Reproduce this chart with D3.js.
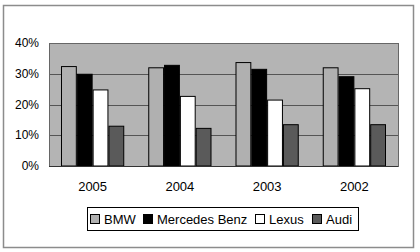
<!DOCTYPE html>
<html>
<head>
<meta charset="utf-8">
<script src="https://cdn.jsdelivr.net/npm/d3@7"></script>
<style>
  body { margin: 0; background: #fff; }
  svg text { font-family: Arial, "Liberation Sans", sans-serif; fill: #000; }
</style>
</head>
<body>
<div id="chart"></div>
<script>
const years = ["2005", "2004", "2003", "2002"];
const brands = ["BMW", "Mercedes Benz", "Lexus", "Audi"];
const bmw = [32.5, 32.1, 33.8, 32.1];
const mercedes = [30.0, 32.9, 31.6, 29.2];
const lexus = [24.9, 22.8, 21.6, 25.3];
const audi = [13.1, 12.4, 13.6, 13.6];
const yTicks = [0, 10, 20, 30, 40];

const seriesValues = [bmw, mercedes, lexus, audi];
const colors = ["#b0b0b0", "#000000", "#ffffff", "#5a5a5a"];

const width = 420;
const height = 252;
const plot = { left: 49, right: 398, top: 43, bottom: 166 };

const svg = d3.select("#chart")
    .append("svg")
    .attr("width", width)
    .attr("height", height);

// outer frame
svg.append("rect")
    .attr("x", 3.5)
    .attr("y", 5.5)
    .attr("width", 410)
    .attr("height", 242)
    .attr("fill", "#fff")
    .attr("stroke", "#8c8c8c")
    .attr("stroke-width", 1.5);

const x = d3.scaleBand()
    .domain(years)
    .range([plot.left, plot.right])
    .paddingInner(0.275)
    .paddingOuter(0.1375);

const xInner = d3.scaleBand()
    .domain(brands)
    .range([0, x.bandwidth()]);

const y = d3.scaleLinear()
    .domain([0, 40])
    .range([plot.bottom, plot.top]);

svg.append("rect")
    .attr("x", plot.left)
    .attr("y", plot.top)
    .attr("width", plot.right - plot.left)
    .attr("height", plot.bottom - plot.top)
    .attr("fill", "#b4b4b4");

svg.append("g")
    .selectAll("line")
    .data(yTicks)
    .enter()
    .append("line")
    .attr("x1", plot.left)
    .attr("x2", plot.right)
    .attr("y1", d => Math.round(y(d)) + 0.5)
    .attr("y2", d => Math.round(y(d)) + 0.5)
    .attr("stroke", "#555")
    .attr("stroke-width", 1);

svg.append("rect")
    .attr("x", plot.left + 0.5)
    .attr("y", plot.top + 0.5)
    .attr("width", plot.right - plot.left)
    .attr("height", plot.bottom - plot.top)
    .attr("fill", "none")
    .attr("stroke", "#666");

const groups = svg.append("g")
    .selectAll("g")
    .data(years)
    .enter()
    .append("g")
    .attr("transform", d => `translate(${x(d)},0)`);

groups.selectAll("rect")
    .data((d, i) => brands.map((b, j) => ({ brand: b, value: seriesValues[j][i], j })))
    .enter()
    .append("rect")
    .attr("x", d => xInner(d.brand) + 0.5)
    .attr("y", d => y(d.value) + 0.5)
    .attr("width", xInner.bandwidth() - 1)
    .attr("height", d => y(0) - y(d.value) - 0.5)
    .attr("fill", d => colors[d.j])
    .attr("stroke", "#000")
    .attr("stroke-width", 1);

// axis line
svg.append("line")
    .attr("x1", plot.left)
    .attr("x2", plot.right)
    .attr("y1", plot.bottom + 0.5)
    .attr("y2", plot.bottom + 0.5)
    .attr("stroke", "#333");

svg.append("g")
    .selectAll("text")
    .data(yTicks)
    .enter()
    .append("text")
    .attr("x", 39)
    .attr("y", d => y(d) + 4)
    .attr("text-anchor", "end")
    .attr("font-size", "12px")
    .text(d => d + "%");

svg.append("g")
    .selectAll("text")
    .data(years)
    .enter()
    .append("text")
    .attr("x", d => x(d) + x.bandwidth() / 2)
    .attr("y", 191)
    .attr("text-anchor", "middle")
    .attr("font-size", "13px")
    .text(d => d);

// legend
const legend = svg.append("g");
legend.append("rect")
    .attr("x", 87.5)
    .attr("y", 207.5)
    .attr("width", 271)
    .attr("height", 23)
    .attr("fill", "#fff")
    .attr("stroke", "#000");

const legendX = [90, 143, 255, 312];
brands.forEach((b, i) => {
    legend.append("rect")
        .attr("x", legendX[i] + 0.5)
        .attr("y", 214.5)
        .attr("width", 9)
        .attr("height", 9)
        .attr("fill", colors[i])
        .attr("stroke", "#000");
    legend.append("text")
        .attr("x", legendX[i] + 14)
        .attr("y", 223.5)
        .attr("font-size", "13px")
        .text(b);
});
</script>
</body>
</html>
